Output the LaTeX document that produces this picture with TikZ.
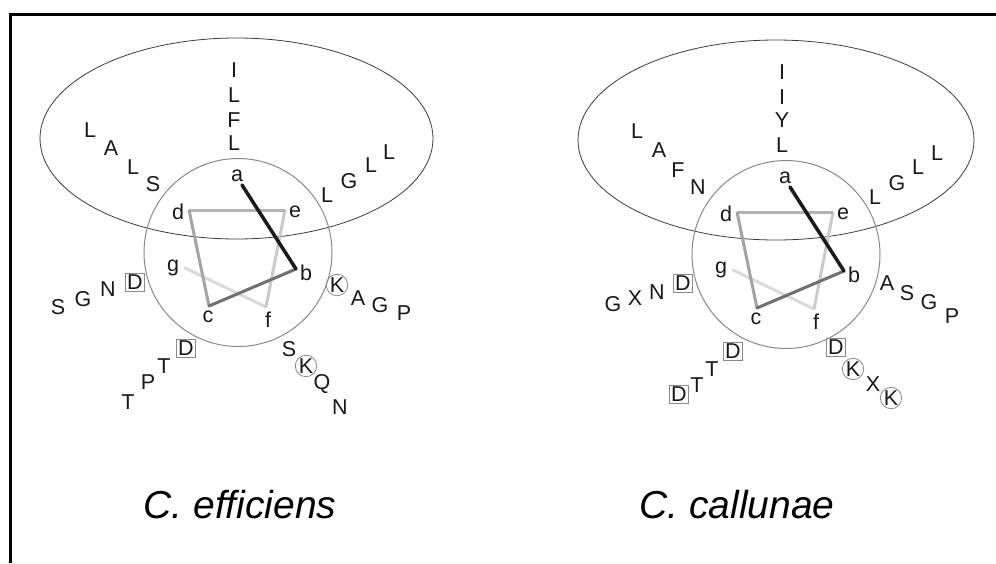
\documentclass[tikz,border=0pt]{standalone}
\usepackage{fontspec}
\setmainfont{Liberation Sans}
\usetikzlibrary{shapes.geometric}
\definecolor{hA}{HTML}{1A1A1A}
\definecolor{hB}{HTML}{707070}
\definecolor{hC}{HTML}{A4A4A4}
\definecolor{hD}{HTML}{B4B4B4}
\definecolor{hE}{HTML}{CACACA}
\definecolor{hF}{HTML}{DADADA}
\definecolor{ringgray}{HTML}{8A8A8A}
\definecolor{ellgray}{HTML}{3C3C3C}
\tikzset{
  res/.style={font=\fontsize{21.5}{21.5}\selectfont, inner sep=0pt, text=black!90},
  hpos/.style={font=\fontsize{21.5}{21.5}\selectfont, inner sep=0pt, text=black!90},
  boxres/.style={res, draw=ringgray, line width=0.8pt, inner sep=1.5pt},
  circres/.style={res, draw=ringgray, line width=0.8pt, circle, inner sep=0.3pt},
  ring/.style={draw=ringgray, line width=1pt},
  memb/.style={draw=ellgray, line width=0.8pt},
  hl/.style={line width=3pt, line cap=round},
  title/.style={font=\fontsize{39}{39}\selectfont\itshape, inner sep=0pt, anchor=base},
  frameline/.style={line width=3pt}
}
\begin{document}
\begin{tikzpicture}[x=1pt,y=-1pt]
\useasboundingbox (0,0) rectangle (996,563);
\fill[white] (0,0) rectangle (996,563);
% frame
\coordinate (fbl) at (10.5,563);
\coordinate (ftl) at (10.5,14.5);
\coordinate (ftr) at (996,14.5);
\draw[frameline] (fbl) -- (ftl) -- (ftr);

% ---------------- left helix ----------------
\node[memb, ellipse, minimum width=393pt, minimum height=201pt, inner sep=0pt] (Lell) at (236.5,138.5) {};
\node[ring, circle, minimum size=188pt, inner sep=0pt] (Lring) at (238,252.5) {};
\coordinate (La) at (242,185);
\coordinate (Lb) at (296,269);
\coordinate (Lc) at (209,306);
\coordinate (Ld) at (189,210);
\coordinate (Le) at (285,210);
\coordinate (Lf) at (266,307);
\coordinate (Lg) at (185,268);
\draw[hl, hF] (Lf) -- (Lg);
\draw[hl, hE, line cap=butt] (Le) -- (Lf);
\draw[hl, hD, line cap=butt] (Ld) -- (Le);
\draw[hl, hC, line cap=butt] (Lc) -- (Ld);
\draw[hl, hB, line join=miter] (Lb) -- (Lc);
\draw[hl, hA, line width=3.5pt] (La) -- (Lb);
\node[hpos] (Lpa) at (237,176) {a};
\node[hpos] (Lpb) at (306,273) {b};
\node[hpos] (Lpc) at (208,317) {c};
\node[hpos] (Lpd) at (178,212) {d};
\node[hpos] (Lpe) at (295,212) {e};
\node[hpos] (Lpf) at (268,320) {f};
\node[hpos] (Lpg) at (173,268) {g};
% top column
\node[res] (L1) at (234,70) {I};
\node[res] (L2) at (234,95) {L};
\node[res] (L3) at (234,120) {F};
\node[res] (L4) at (234,143) {L};
% upper left
\node[res] (L5) at (90,130) {L};
\node[res] (L6) at (111,148) {A};
\node[res] (L7) at (133,167) {L};
\node[res] (L8) at (153,184) {S};
% upper right
\node[res] (L9) at (327,195) {L};
\node[res] (L10) at (349,181) {G};
\node[res] (L11) at (371,165) {L};
\node[res] (L12) at (389,152) {L};
% left
\node[res] (L13) at (58,307) {S};
\node[res] (L14) at (83,299) {G};
\node[res] (L15) at (108,289) {N};
\node[boxres] (L16) at (135,282) {D};
% right
\node[circres] (L17) at (337,285) {K};
\node[res] (L18) at (358,298) {A};
\node[res] (L19) at (380,305) {G};
\node[res] (L20) at (404,313) {P};
% lower left
\node[boxres] (L21) at (186,348) {D};
\node[res] (L22) at (164,366) {T};
\node[res] (L23) at (148,382) {P};
\node[res] (L24) at (128,402) {T};
% lower right
\node[res] (L25) at (289,349) {S};
\node[circres] (L26) at (306,366) {K};
\node[res] (L27) at (322,384) {Q};
\node[res] (L28) at (340,407) {N};

% ---------------- right helix ----------------
\node[memb, ellipse, minimum width=396pt, minimum height=200pt, inner sep=0pt] (Rell) at (776,140) {};
\node[ring, circle, minimum size=188pt, inner sep=0pt] (Rring) at (786,254.5) {};
\coordinate (Ra) at (790,187);
\coordinate (Rb) at (844,271);
\coordinate (Rc) at (757,308);
\coordinate (Rd) at (737,212);
\coordinate (Re) at (833,212);
\coordinate (Rf) at (814,309);
\coordinate (Rg) at (733,270);
\draw[hl, hF] (Rf) -- (Rg);
\draw[hl, hE, line cap=butt] (Re) -- (Rf);
\draw[hl, hD, line cap=butt] (Rd) -- (Re);
\draw[hl, hC, line cap=butt] (Rc) -- (Rd);
\draw[hl, hB, line join=miter] (Rb) -- (Rc);
\draw[hl, hA, line width=3.5pt] (Ra) -- (Rb);
\node[hpos] (Rpa) at (785,178) {a};
\node[hpos] (Rpb) at (854,275) {b};
\node[hpos] (Rpc) at (756,319) {c};
\node[hpos] (Rpd) at (726,214) {d};
\node[hpos] (Rpe) at (843,214) {e};
\node[hpos] (Rpf) at (816,322) {f};
\node[hpos] (Rpg) at (721,270) {g};
% top column
\node[res] (R1) at (782,72) {I};
\node[res] (R2) at (782,97) {I};
\node[res] (R3) at (782,120) {Y};
\node[res] (R4) at (782,145) {L};
% upper left
\node[res] (R5) at (637,131) {L};
\node[res] (R6) at (659,150) {A};
\node[res] (R7) at (678,170) {F};
\node[res] (R8) at (698,187) {N};
% upper right
\node[res] (R9) at (875,197) {L};
\node[res] (R10) at (897,183) {G};
\node[res] (R11) at (918,167) {L};
\node[res] (R12) at (937,153) {L};
% left
\node[res] (R13) at (613,304) {G};
\node[res] (R14) at (635,298) {X};
\node[res] (R15) at (657,292) {N};
\node[boxres] (R16) at (683,283) {D};
% right
\node[res] (R17) at (887,283) {A};
\node[res] (R18) at (907,293) {S};
\node[res] (R19) at (929,302) {G};
\node[res] (R20) at (952,316) {P};
% lower left
\node[boxres] (R21) at (733,351) {D};
\node[res] (R22) at (712,369) {T};
\node[res] (R23) at (697,385) {T};
\node[boxres] (R24) at (679,394) {D};
% lower right
\node[boxres] (R25) at (836,347) {D};
\node[circres] (R26) at (853,369) {K};
\node[res] (R27) at (873,384) {X};
\node[circres] (R28) at (891,398) {K};

% titles
\node[title] (tL) at (240,518) {C. efficiens};
\node[title] (tR) at (737,518) {C. callunae};
\end{tikzpicture}
\end{document}
